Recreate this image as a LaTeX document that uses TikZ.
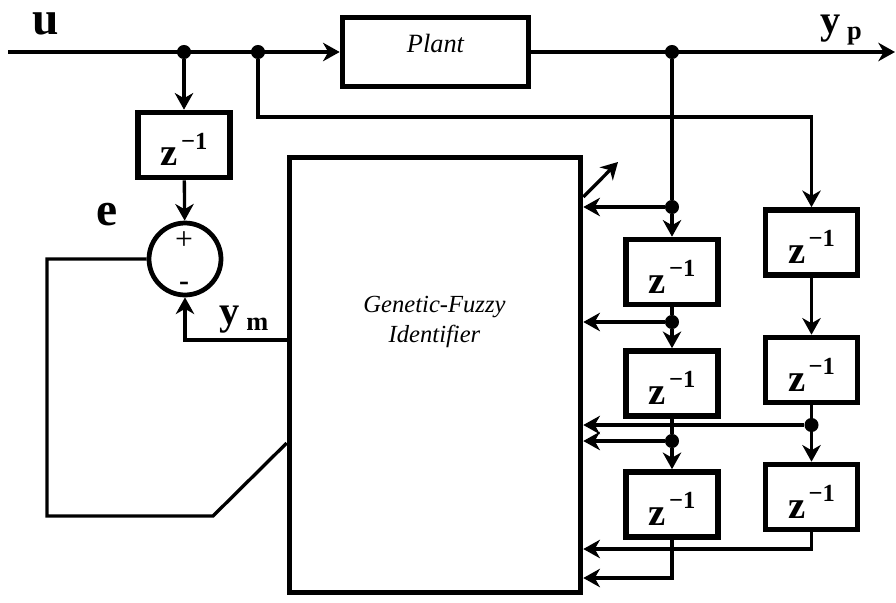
\documentclass[tikz,border=0pt]{standalone}
\usepackage{fontspec}
\setmainfont{Liberation Serif}
\usepackage{tikz}
\usetikzlibrary{arrows.meta, positioning, calc}
\tikzset{
  line/.style={draw=black, line width=1.9pt},
  arrow/.style={draw=black, line width=1.9pt, -{Stealth[length=9.5pt, width=10.5pt, inset=3pt]}},
  zblock/.style={draw=black, rectangle, line width=3.2pt, minimum width=1.84cm, minimum height=1.3cm, inner sep=0pt, text height=0.84cm, text depth=0pt},
  pblock/.style={draw=black, rectangle, line width=3.2pt, minimum width=3.72cm, minimum height=1.38cm, inner sep=0pt, text height=0.3cm, text depth=0.3cm, font=\fontsize{15}{18}\selectfont\itshape},
  bigblock/.style={draw=black, rectangle, line width=3.2pt, minimum width=5.82cm, minimum height=8.7cm, inner sep=0pt},
  sumnode/.style={draw=black, circle, line width=2.7pt, minimum size=1.44cm, inner sep=0pt},
  dot/.style={circle, fill=black, inner sep=0pt, minimum size=8pt},
  sig/.style={font=\fontsize{27}{30}\selectfont\bfseries, inner sep=0pt},
  gtext/.style={font=\fontsize{14}{17}\selectfont\itshape, align=center, inner sep=0pt}
}
\newcommand{\zinv}{\fontsize{22}{26}\selectfont\textbf{z}\kern2pt\raisebox{0.95ex}{\fontsize{14}{14}\selectfont\textbf{−1}}}
\newcommand{\subsig}[2]{\fontsize{23}{26}\selectfont\textbf{#1}\,\raisebox{-0.3ex}{\fontsize{15}{15}\selectfont\textbf{#2}}}

\begin{document}
\begin{tikzpicture}[x=0.02cm, y=-0.02cm]
  \useasboundingbox (0,0) rectangle (896,602);

  \node [pblock] (plant) at (435.5,52) {Plant};
  \node [bigblock] (gfi) at (435,375) {};
  \node [gtext] (gfitext) at (434.5,322) {Genetic-Fuzzy\\Identifier};
  \node [zblock] (d0) at (184,145) {\zinv};
  \node [sumnode] (sum) at (185,259) {};

  \node [zblock] (b1) at (672,272) {\zinv};
  \node [zblock] (b2) at (672,383.5) {\zinv};
  \node [zblock] (b3) at (672,504.5) {\zinv};
  \node [zblock] (a1) at (811.5,242.5) {\zinv};
  \node [zblock] (a2) at (811.5,370) {\zinv};
  \node [zblock] (a3) at (811.5,497) {\zinv};

  \node [dot] (j1) at (184,52) {};
  \node [dot] (j2) at (258,52) {};
  \node [dot] (j3) at (672,52) {};
  \node [dot] (j4) at (672,207) {};
  \node [dot] (j5) at (672,322) {};
  \node [dot] (j6) at (672,441) {};
  \node [dot] (j7) at (811.5,425) {};

  \coordinate (uin) at (8,52);
  \coordinate (yout) at (895,52);
  \coordinate (k1) at (811.5,117);
  \coordinate (c3) at (672,578);
  \coordinate (c4) at (811.5,549);
  \coordinate (fb) at (47,516);
  \coordinate (fc) at (213,516);
  \coordinate (adj) at (618,162);

  \node [sig] (ulab) at (46,24) {u};
  \node [sig] (elab) at (107,215) {e};
  \node [inner sep=0pt] (yplab) at (841,30) {\subsig{y}{p}};
  \node [inner sep=0pt] (ymlab) at (244,320) {\subsig{y}{m}};
  \node [inner sep=0pt, font=\fontsize{18}{18}\selectfont] (plus) at (184,241) {+};
  \node [inner sep=0pt, font=\fontsize{17}{17}\selectfont\bfseries] (minus) at (184,286) {-};

  \draw [arrow] (uin) -- (plant);
  \draw [arrow] (plant) -- (yout);
  \draw [arrow] (j1) -- (d0);
  \draw [arrow] (d0) -- (sum);
  \draw [arrow] (j2) |- (k1) -- (a1);
  \draw [arrow] (gfi.west |- 0,340) -| (sum);
  \draw [line] (sum) -| (fb) -- (fc) -- (gfi.west |- 0,443);
  \draw [arrow] (gfi.east |- 0,197) -- (adj);

  \draw [line] (j3) -- (j4);
  \draw [arrow] (j4) -- (b1);
  \draw [arrow] (j4) -- (j4 -| gfi.east);
  \draw [line] (b1) -- (j5);
  \draw [arrow] (j5) -- (b2);
  \draw [arrow] (j5) -- (j5 -| gfi.east);
  \draw [line] (b2) -- (j6);
  \draw [arrow] (j6) -- (b3);
  \draw [arrow] (j6) -- (j6 -| gfi.east);
  \draw [arrow] (b3) -- (c3) -- (c3 -| gfi.east);

  \draw [arrow] (a1) -- (a2);
  \draw [line] (a2) -- (j7);
  \draw [arrow] (j7) -- (a3);
  \draw [arrow] (j7) -- (j7 -| gfi.east);
  \draw [arrow] (a3) -- (c4) -- (c4 -| gfi.east);
\end{tikzpicture}
\end{document}
